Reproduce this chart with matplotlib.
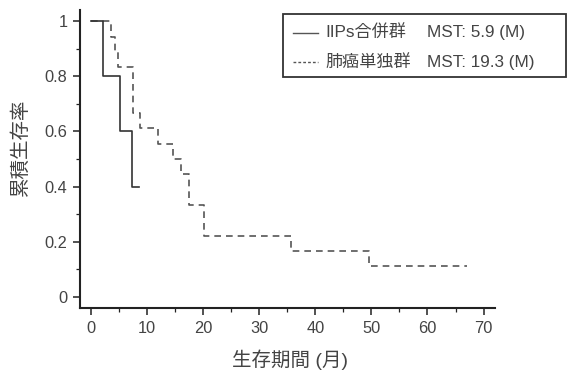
import matplotlib
matplotlib.use('Agg')
import matplotlib.pyplot as plt
from matplotlib.ticker import MultipleLocator, FormatStrFormatter
from matplotlib.lines import Line2D
from matplotlib.patches import Rectangle

plt.rcParams['font.family'] = ['Liberation Sans', 'Noto Sans CJK JP', 'DejaVu Sans']

# Kaplan-Meier curves (months, survival)
iips_t = [0, 2.2, 5.2, 7.3, 8.5]
iips_s = [1.0, 0.8, 0.6, 0.4, 0.4]

lung_t = [0, 3.6, 4.2, 4.8, 7.4, 8.7, 12.0, 14.6, 16.1, 17.4, 20.1, 35.6, 49.5, 67.0]
lung_s = [1.0, 0.944, 0.889, 0.833, 0.667, 0.611, 0.556, 0.5, 0.444, 0.333, 0.222, 0.167, 0.111, 0.111]

labels = ['IIPs合併群', '肺癌単独群']
mst = ['MST: 5.9 (M)', 'MST: 19.3 (M)']

txt_col = '#444444'
line_col = '#333333'

fig = plt.figure(figsize=(5.7, 3.72), dpi=100)
ax = fig.add_axes([0.140, 0.172, 0.728, 0.801])

ax.step(lung_t, lung_s, where='post', color='#555555', lw=1.2, linestyle=(0, (4, 3)))
ax.step(iips_t, iips_s, where='post', color=line_col, lw=1.2)

ax.set_xlim(-2, 72)
ax.set_ylim(-0.04, 1.04)
ax.xaxis.set_major_locator(MultipleLocator(10))
ax.xaxis.set_minor_locator(MultipleLocator(5))
ax.yaxis.set_major_locator(MultipleLocator(0.2))
ax.yaxis.set_minor_locator(MultipleLocator(0.1))
ax.yaxis.set_major_formatter(FormatStrFormatter('%g'))

for s in ['top', 'right']:
    ax.spines[s].set_visible(False)
for s in ['left', 'bottom']:
    ax.spines[s].set_linewidth(1.5)
    ax.spines[s].set_color('#222222')

ax.tick_params(which='major', length=5, width=1.1, color='#222222',
               labelsize=11.8, labelcolor=txt_col, pad=4)
ax.tick_params(which='minor', length=3, width=0.9, color='#222222')

ax.set_xlabel('生存期間 (月)', fontsize=14, color=txt_col)
ax.xaxis.set_label_coords(0.506, -0.138)
ax.set_ylabel('累積生存率', fontsize=14, color=txt_col)
ax.yaxis.set_label_coords(-0.12, 0.54)

# legend box drawn by hand so it can run past the axes like the original
fig.patches.append(Rectangle((283 / 570, 1 - 77 / 372), 283 / 570, 63 / 372,
                             transform=fig.transFigure, fill=False,
                             edgecolor='#333333', lw=1.3))
rows_y = [1 - 33 / 372, 1 - 62 / 372]
styles = ['-', (0, (2, 1.5))]
for y, lab, m, ls in zip(rows_y, labels, mst, styles):
    fig.lines.append(Line2D([293 / 570, 318 / 570], [y, y], transform=fig.transFigure,
                            color='#555555', lw=1.0, linestyle=ls))
    fig.text(325 / 570, y, lab, fontsize=12.3, color=txt_col, va='center')
    fig.text(427 / 570, y, m, fontsize=12.3, color=txt_col, va='center')

fig.savefig('out.png', dpi=100)
